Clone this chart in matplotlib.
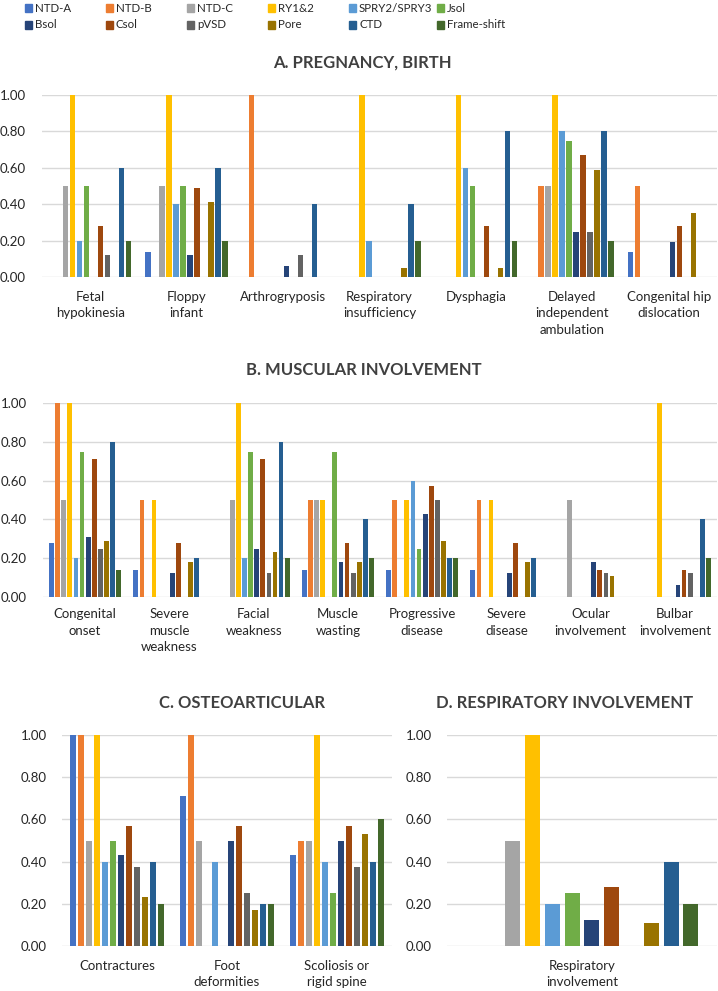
import matplotlib
matplotlib.use("Agg")
import matplotlib.pyplot as plt
import numpy as np
from matplotlib.patches import Rectangle

plt.rcParams['font.family'] = ['Lato', 'DejaVu Sans']

series = ["NTD-A", "NTD-B", "NTD-C", "RY1&2", "SPRY2/SPRY3", "Jsol",
          "Bsol", "Csol", "pVSD", "Pore", "CTD", "Frame-shift"]
colors = ["#4472C4", "#ED7D31", "#A5A5A5", "#FFC000", "#5B9BD5", "#70AD47",
          "#264478", "#9E480E", "#636363", "#997300", "#255E91", "#43682B"]

# Panel A
cats_a = ["Fetal\nhypokinesia", "Floppy\ninfant", "Arthrogryposis",
          "Respiratory\ninsufficiency", "Dysphagia",
          "Delayed\nindependent\nambulation", "Congenital hip\ndislocation"]
vals_a = [
    [0, 0, 0.50, 1.00, 0.20, 0.50, 0, 0.28, 0.12, 0, 0.60, 0.20],
    [0.14, 0, 0.50, 1.00, 0.40, 0.50, 0.12, 0.49, 0, 0.41, 0.60, 0.20],
    [0, 1.00, 0, 0, 0, 0, 0.06, 0, 0.12, 0, 0.40, 0],
    [0, 0, 0, 1.00, 0.20, 0, 0, 0, 0, 0.05, 0.40, 0.20],
    [0, 0, 0, 1.00, 0.60, 0.50, 0, 0.28, 0, 0.05, 0.80, 0.20],
    [0, 0.50, 0.50, 1.00, 0.80, 0.75, 0.25, 0.67, 0.25, 0.59, 0.80, 0.20],
    [0.14, 0.50, 0, 0, 0, 0, 0.19, 0.28, 0, 0.35, 0, 0],
]

# Panel B
cats_b = ["Congenital\nonset", "Severe\nmuscle\nweakness", "Facial\nweakness",
          "Muscle\nwasting", "Progressive\ndisease", "Severe\ndisease",
          "Ocular\ninvolvement", "Bulbar\ninvolvement"]
vals_b = [
    [0.28, 1.00, 0.50, 1.00, 0.20, 0.75, 0.31, 0.71, 0.25, 0.29, 0.80, 0.14],
    [0.14, 0.50, 0, 0.50, 0, 0, 0.125, 0.28, 0, 0.18, 0.20, 0],
    [0, 0, 0.50, 1.00, 0.20, 0.75, 0.25, 0.71, 0.125, 0.23, 0.80, 0.20],
    [0.14, 0.50, 0.50, 0.50, 0, 0.75, 0.18, 0.28, 0.125, 0.18, 0.40, 0.20],
    [0.14, 0.50, 0, 0.50, 0.60, 0.25, 0.43, 0.57, 0.50, 0.29, 0.20, 0.20],
    [0.14, 0.50, 0, 0.50, 0, 0, 0.125, 0.28, 0, 0.18, 0.20, 0],
    [0, 0, 0.50, 0, 0, 0, 0.18, 0.14, 0.125, 0.11, 0, 0],
    [0, 0, 0, 1.00, 0, 0, 0.06, 0.14, 0.125, 0, 0.40, 0.20],
]

# Panel C
cats_c = ["Contractures", "Foot\ndeformities", "Scoliosis or\nrigid spine"]
vals_c = [
    [1.00, 1.00, 0.50, 1.00, 0.40, 0.50, 0.43, 0.57, 0.375, 0.23, 0.40, 0.20],
    [0.71, 1.00, 0.50, 0, 0.40, 0, 0.50, 0.57, 0.25, 0.17, 0.20, 0.20],
    [0.43, 0.50, 0.50, 1.00, 0.40, 0.25, 0.50, 0.57, 0.375, 0.53, 0.40, 0.60],
]

# Panel D
cats_d = ["Respiratory\ninvolvement"]
vals_d = [
    [0, 0, 0.50, 1.00, 0.20, 0.25, 0.125, 0.28, 0, 0.11, 0.40, 0.20],
]

yticks = [0, 0.2, 0.4, 0.6, 0.8, 1.0]

W, H = 718, 991
fig = plt.figure(figsize=(W / 100, H / 100), dpi=100)

TXT = "#404040"


def px_axes(left, right, top, bottom):
    return fig.add_axes([left / W, (H - bottom) / H, (right - left) / W, (bottom - top) / H])


def draw(ax, cats, vals, group=0.87, barfrac=0.78, pad=9, ypad=14):
    n = len(series)
    slot = group / n
    data = np.array(vals)
    x = np.arange(len(cats))
    for j in range(n):
        offs = -group / 2 + slot * (j + 0.5)
        ax.bar(x + offs, data[:, j], width=slot * barfrac, color=colors[j], zorder=3)
    ax.set_xlim(-0.5, len(cats) - 0.5)
    ax.set_ylim(0, 1.0)
    ax.set_yticks(yticks)
    ax.set_yticklabels([f"{v:.2f}" for v in yticks])
    ax.set_xticks(x)
    ax.set_xticklabels(cats, linespacing=1.45)
    ax.tick_params(axis='both', length=0, labelsize=9.5, colors="#262626")
    ax.tick_params(axis='x', pad=pad)
    ax.tick_params(axis='y', pad=ypad)
    for s in ax.spines.values():
        s.set_visible(False)
    ax.grid(axis='y', color="#D9D9D9", linewidth=1.0, zorder=0)
    ax.set_axisbelow(True)


axA = px_axes(42, 717, 95, 277)
draw(axA, cats_a, vals_a, pad=10, ypad=11.5)
axB = px_axes(43, 717, 403, 597)
draw(axB, cats_b, vals_b, pad=8, ypad=11.5)
axC = px_axes(62, 392, 735, 946)
draw(axC, cats_c, vals_c, pad=10, ypad=11)
axD = px_axes(447, 717, 735, 946)
draw(axD, cats_d, vals_d, group=0.88, barfrac=0.76, pad=10, ypad=11)

titles = [("A. PREGNANCY, BIRTH", 362, 63), ("B. MUSCULAR INVOLVEMENT", 364, 370),
          ("C. OSTEOARTICULAR", 242, 703), ("D. RESPIRATORY INVOLVEMENT", 565, 703)]
for t, xx, yy in titles:
    fig.text(xx / W, (H - yy) / H, t, ha='center', va='center', fontsize=12,
             fontweight='bold', color=TXT)

# legend
col_x = [25, 106, 187, 268, 349, 437]
for i, name in enumerate(series):
    row, col = divmod(i, 6)
    mx = col_x[col]
    my = 8 + row * 17
    fig.patches.append(Rectangle((mx / W, (H - my - 4) / H), 7 / W, 8 / H,
                                 transform=fig.transFigure, color=colors[i]))
    fig.text((mx + 10) / W, (H - my) / H, name, ha='left', va='center',
             fontsize=8.3, color="#262626")

fig.savefig("out.png", dpi=100)
